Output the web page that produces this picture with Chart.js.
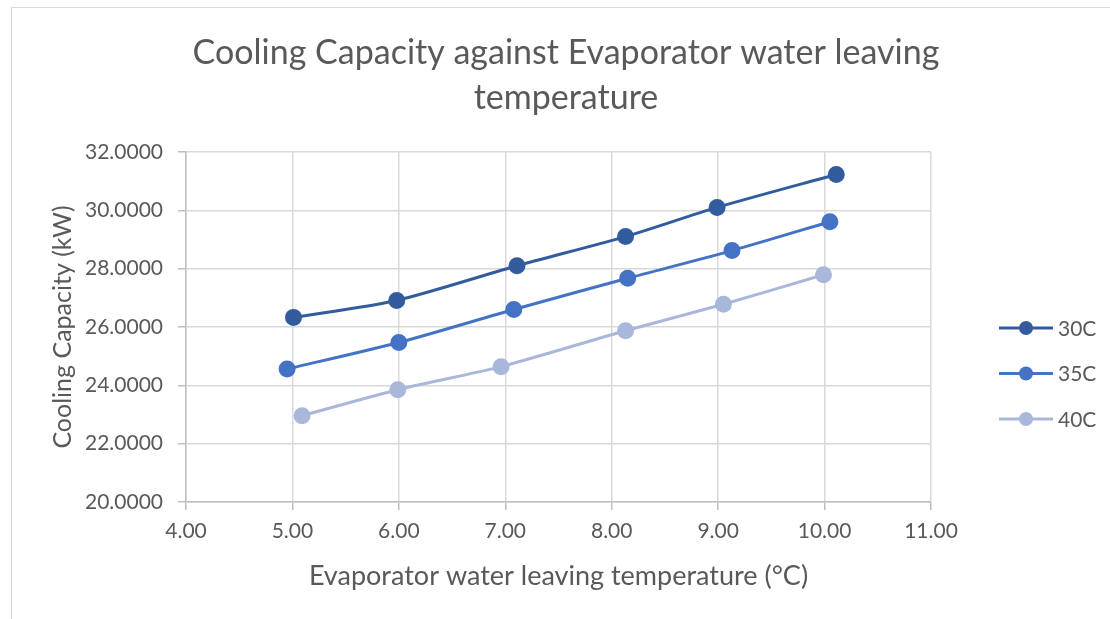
<!DOCTYPE html>
<html>
<head>
<meta charset="utf-8">
<script src="https://cdn.jsdelivr.net/npm/chart.js@4"></script>
<style>
  body{margin:0;background:#fff;}
  #wrap{position:relative;width:1110px;height:619px;overflow:hidden;}
  #frame{position:absolute;left:11px;top:7px;width:1200px;height:700px;border:1px solid #d9d9d9;box-sizing:border-box;}
  #c{position:absolute;left:0;top:0;}
</style>
</head>
<body>
<div id="wrap">
  <div id="frame"></div>
  <canvas id="c" width="1110" height="619"></canvas>
</div>
<script>
// data
const seriesNames = ['30C', '35C', '40C'];
const temp30 = [5.01, 5.98, 7.11, 8.13, 8.99, 10.11];
const cap30  = [26.33, 26.91, 28.10, 29.10, 30.10, 31.23];
const temp35 = [4.95, 6.00, 7.08, 8.15, 9.13, 10.05];
const cap35  = [24.56, 25.47, 26.60, 27.67, 28.62, 29.61];
const temp40 = [5.09, 5.99, 6.96, 8.13, 9.05, 9.99];
const cap40  = [22.96, 23.85, 24.64, 25.87, 26.78, 27.79];
const colors = ['#335C9F', '#4472C4', '#A9B7DB'];

const titleLines = ['Cooling Capacity against Evaporator water leaving', 'temperature'];
const xTitle = 'Evaporator water leaving temperature (\u00B0C)';
const yTitle = 'Cooling Capacity (kW)';

const FONT = 'Lato';
const TEXT = '#595959';

function pts(xs, ys){
  return xs.map((x,i)=>({x:x, y:ys[i]}));
}
const allX = [temp30, temp35, temp40];
const allY = [cap30, cap35, cap40];

const datasets = seriesNames.map((name,i)=>({
  label: name,
  data: pts(allX[i], allY[i]),
  borderColor: colors[i],
  backgroundColor: colors[i],
  pointBackgroundColor: colors[i],
  pointBorderColor: colors[i],
  pointRadius: 7,
  borderWidth: 3,
  tension: 0.25,
  showLine: true
}));

// title and legend drawn by hand so they sit where the reference has them
const extras = {
  id: 'extras',
  afterDraw(chart){
    const ctx = chart.ctx;
    ctx.save();
    ctx.fillStyle = TEXT;
    ctx.font = '34px ' + FONT;
    ctx.textAlign = 'center';
    ctx.textBaseline = 'middle';
    titleLines.forEach((t,i)=> ctx.fillText(t, 566, 53 + i*45));

    ctx.font = '21px ' + FONT;
    ctx.textAlign = 'left';
    chart.data.datasets.forEach((ds,i)=>{
      const y = 328 + i*45.5;
      ctx.strokeStyle = ds.borderColor;
      ctx.lineWidth = 3;
      ctx.beginPath();
      ctx.moveTo(999, y);
      ctx.lineTo(1053, y);
      ctx.stroke();
      ctx.fillStyle = ds.borderColor;
      ctx.beginPath();
      ctx.arc(1026, y, 7, 0, Math.PI*2);
      ctx.fill();
      ctx.fillStyle = TEXT;
      ctx.fillText(ds.label, 1058, y + 1);
    });
    ctx.restore();
  }
};

new Chart('c', {
  type: 'scatter',
  data: { datasets: datasets },
  plugins: [extras],
  options: {
    responsive: false,
    animation: false,
    layout: { padding: { left: 0, top: 152, right: 179, bottom: 0 } },
    plugins: { legend: { display: false }, tooltip: { enabled: false } },
    scales: {
      x: {
        type: 'linear', min: 4, max: 11,
        afterFit(s){ s.height = 117; },
        ticks: { stepSize: 1, color: TEXT, padding: 9, font: { family: FONT, size: 21 },
                 callback: v => Number(v).toFixed(2) },
        grid: { color: '#d9d9d9', lineWidth: 1.5, tickColor: '#bfbfbf', tickLength: 8 },
        border: { color: '#bfbfbf', width: 1.5 },
        title: { display: true, text: xTitle, color: TEXT, font: { family: FONT, size: 27 },
                 padding: { top: 0, bottom: 27 } }
      },
      y: {
        type: 'linear', min: 20, max: 32,
        afterFit(s){ s.width = 186; },
        ticks: { stepSize: 2, color: TEXT, padding: 15, font: { family: FONT, size: 21 },
                 callback: v => Number(v).toFixed(4) },
        grid: { color: '#d9d9d9', lineWidth: 1.5, tickColor: '#bfbfbf', tickLength: 8 },
        border: { color: '#bfbfbf', width: 1.5 },
        title: { display: true, text: yTitle, color: TEXT, font: { family: FONT, size: 25 },
                 padding: { top: 48, bottom: 0 } }
      }
    }
  }
});
</script>
</body>
</html>
